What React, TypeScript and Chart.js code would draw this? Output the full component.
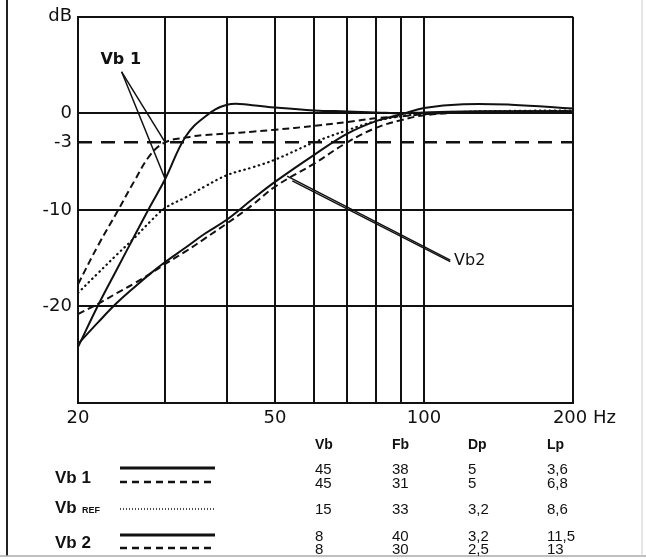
import React, { useEffect, useRef } from "react";
import { Chart, registerables } from "chart.js";

Chart.register(...registerables);

// ---- data (frequency in Hz, level in dB) ----
const freqs = [20, 22, 24, 26, 28, 30, 33, 36, 40, 45, 50, 60, 70, 80, 90, 100, 120, 150, 200];
const vb1Solid = [-24.2, -19.8, -16.1, -12.7, -9.6, -6.8, -2.4, -0.4, 0.9, 0.85, 0.6, 0.3, 0.2, 0.1, 0.0, 0.1, 0.2, 0.2, 0.2];
const vb1Dashed = [-17.7, -13.6, -10.2, -7.0, -4.3, -3.0, -2.5, -2.25, -2.1, -1.9, -1.7, -1.3, -0.9, -0.5, -0.3, -0.1, 0.1, 0.2, 0.2];
const vbRefDotted = [-18.6, -16.5, -14.6, -12.9, -11.2, -9.8, -8.7, -7.6, -6.4, -5.6, -4.8, -3.0, -1.75, -0.8, -0.3, -0.05, 0.15, 0.25, 0.3];
const vb2Solid = [-23.9, -21.6, -19.6, -18.0, -16.6, -15.4, -13.9, -12.5, -11.0, -8.9, -7.1, -4.3, -2.1, -0.8, -0.1, 0.55, 0.95, 0.9, 0.5];
const vb2Dashed = [-20.8, -19.7, -18.6, -17.6, -16.6, -15.6, -14.3, -13.0, -11.4, -9.5, -7.6, -5.2, -3.0, -1.5, -0.7, -0.2, 0.1, 0.2, 0.25];

const refLineFreqs = [20, 200];
const refLineDb = [-3, -3];

// annotation leader lines (Hz, dB)
const vb1LeaderA = [[24.5, 4.3], [30, -3.0]];
const vb1LeaderB = [[24.5, 4.3], [30, -6.8]];
const vb2LeaderA = [[52.9, -6.5], [113, -15.2]];
const vb2LeaderB = [[54.2, -7.0], [113, -15.35]];
const vb1Label = { text: "Vb 1", f: 24.4, db: 5.5 };
const vb2Label = { text: "Vb2", f: 115, db: -15.3 };

// axes
const xTickValues = [20, 30, 40, 50, 60, 70, 80, 90, 100, 200];
const xTickLabels = ["20", "", "", "50", "", "", "", "", "100", "    200 Hz"];
const yTickValues = [10, 0, -3, -10, -20, -30];
const yTickLabels = ["dB", "0", "-3", "-10", "-20", ""];

// legend table
const tableHeaders = ["Vb", "Fb", "Dp", "Lp"];
const colVb = ["45", "45", "15", "8", "8"];
const colFb = ["38", "31", "33", "40", "30"];
const colDp = ["5", "5", "3,2", "3,2", "2,5"];
const colLp = ["3,6", "6,8", "8,6", "11,5", "13"];

const INK = "#111";
const AXIS_FONT = '"DejaVu Sans", "Liberation Sans", sans-serif';
const NARROW = '"Liberation Sans Narrow", "Liberation Sans", Arial, sans-serif';

const toPts = (arr: number[]) => freqs.map((f, i) => ({ x: f, y: arr[i] }));
const pairPts = (arr: number[][]) => arr.map((p) => ({ x: p[0], y: p[1] }));

const overlayPlugin = {
  id: "overlay",
  afterDatasetsDraw(chart: any) {
    const { ctx, scales } = chart;
    const sx = scales.x;
    const sy = scales.y;
    ctx.save();
    ctx.fillStyle = INK;
    ctx.textBaseline = "middle";
    ctx.font = 'bold 16px "DejaVu Sans", sans-serif';
    ctx.textAlign = "center";
    ctx.fillText(vb1Label.text, sx.getPixelForValue(vb1Label.f), sy.getPixelForValue(vb1Label.db));
    ctx.textAlign = "left";
    ctx.font = '16px "DejaVu Sans", sans-serif';
    ctx.fillText(vb2Label.text, sx.getPixelForValue(vb2Label.f), sy.getPixelForValue(vb2Label.db));
    ctx.restore();
  },
  afterDraw(chart: any) {
    const ctx = chart.ctx;
    ctx.save();
    // outer frame
    ctx.strokeStyle = "#222";
    ctx.lineWidth = 2;
    ctx.beginPath();
    ctx.moveTo(7, 0);
    ctx.lineTo(7, 556);
    ctx.stroke();
    ctx.strokeStyle = "#aaa";
    ctx.lineWidth = 1.5;
    ctx.beginPath();
    ctx.moveTo(0, 556);
    ctx.lineTo(646, 556);
    ctx.stroke();
    ctx.strokeStyle = "#ccc";
    ctx.lineWidth = 1;
    ctx.beginPath();
    ctx.moveTo(642, 0);
    ctx.lineTo(642, 556);
    ctx.stroke();

    // table
    ctx.fillStyle = INK;
    ctx.textBaseline = "middle";
    ctx.textAlign = "left";
    const colX = [315, 392, 468, 547];
    ctx.font = "bold 14px " + NARROW;
    tableHeaders.forEach((h, i) => ctx.fillText(h, colX[i], 445));
    const rowY = [470, 484, 510, 537, 550];
    ctx.font = "15px " + NARROW;
    const cols = [colVb, colFb, colDp, colLp];
    cols.forEach((col, c) => col.forEach((v, r) => ctx.fillText(v, colX[c], rowY[r])));

    // legend names
    ctx.font = 'bold 17px "Liberation Sans", Arial, sans-serif';
    ctx.fillText("Vb 1", 55, 478);
    ctx.fillText("Vb", 55, 508);
    ctx.fillText("Vb 2", 55, 543);
    ctx.font = 'bold 9px "Liberation Sans", Arial, sans-serif';
    ctx.fillText("REF", 82, 511);

    // legend line samples
    const sample = (y: number, w: number, dash: number[]) => {
      ctx.strokeStyle = INK;
      ctx.lineWidth = w;
      ctx.setLineDash(dash);
      ctx.beginPath();
      ctx.moveTo(120, y);
      ctx.lineTo(215, y);
      ctx.stroke();
    };
    sample(468, 3, []);
    sample(482, 2.5, [7, 5]);
    sample(509, 1.5, [1, 2]);
    sample(535, 3, []);
    sample(548, 2.5, [7, 5]);
    ctx.restore();
  },
};

export default function App() {
  const ref = useRef<HTMLCanvasElement | null>(null);

  useEffect(() => {
    if (!ref.current) return;
    const curve = (data: any[], dash: number[], width = 2, cap: CanvasLineCap = "butt") => ({
      data,
      borderColor: INK,
      borderWidth: width,
      borderDash: dash,
      borderCapStyle: cap,
      pointRadius: 0,
      fill: false,
      tension: 0.4,
    });
    const straight = (data: any[], dash: number[], width: number) => ({
      data,
      borderColor: INK,
      borderWidth: width,
      borderDash: dash,
      pointRadius: 0,
      fill: false,
      tension: 0,
    });

    const chart = new Chart(ref.current, {
      type: "line",
      data: {
        datasets: [
          straight(refLineFreqs.map((f, i) => ({ x: f, y: refLineDb[i] })), [14, 9], 2.5),
          curve(toPts(vbRefDotted), [0.5, 4.5], 2.2, "round"),
          curve(toPts(vb1Dashed), [7, 4], 2),
          curve(toPts(vb2Dashed), [7, 4], 2),
          curve(toPts(vb1Solid), [], 2),
          curve(toPts(vb2Solid), [], 2),
          straight(pairPts(vb1LeaderA), [], 1.5),
          straight(pairPts(vb1LeaderB), [], 1.5),
          straight(pairPts(vb2LeaderA), [], 1.5),
          straight(pairPts(vb2LeaderB), [], 1.5),
        ] as any,
      },
      options: {
        responsive: false,
        animation: false,
        layout: { padding: { left: 8, right: 73, top: 16, bottom: 126 } },
        plugins: { legend: { display: false }, tooltip: { enabled: false } },
        elements: { point: { radius: 0 } },
        scales: {
          x: {
            type: "logarithmic",
            min: 20,
            max: 200,
            afterBuildTicks: (s: any) => {
              s.ticks = xTickValues.map((v) => ({ value: v }));
            },
            afterFit: (s: any) => {
              s.height = 30;
            },
            ticks: {
              autoSkip: false,
              maxRotation: 0,
              minRotation: 0,
              padding: 5,
              color: INK,
              font: { family: AXIS_FONT, size: 18 },
              callback: (_v: any, i: number) => xTickLabels[i],
            },
            grid: { color: INK, lineWidth: 2, drawTicks: false },
            border: { color: INK, width: 2 },
          },
          y: {
            type: "linear",
            min: -30,
            max: 10,
            afterBuildTicks: (s: any) => {
              s.ticks = yTickValues.map((v) => ({ value: v }));
            },
            afterFit: (s: any) => {
              s.width = 70;
            },
            ticks: {
              autoSkip: false,
              padding: 6,
              color: INK,
              font: { family: AXIS_FONT, size: 18 },
              callback: (_v: any, i: number) => yTickLabels[i],
            },
            grid: {
              color: (c: any) => (c.tick && c.tick.value === -3 ? "rgba(0,0,0,0)" : INK),
              lineWidth: 2,
              drawTicks: false,
            },
            border: { color: INK, width: 2 },
          },
        },
      } as any,
      plugins: [overlayPlugin],
    });
    return () => chart.destroy();
  }, []);

  return (
    <div style={{ position: "fixed", left: 0, top: 0, width: 646, height: 559, background: "#fff" }}>
      <canvas ref={ref} width={646} height={559} style={{ display: "block" }} />
    </div>
  );
}
